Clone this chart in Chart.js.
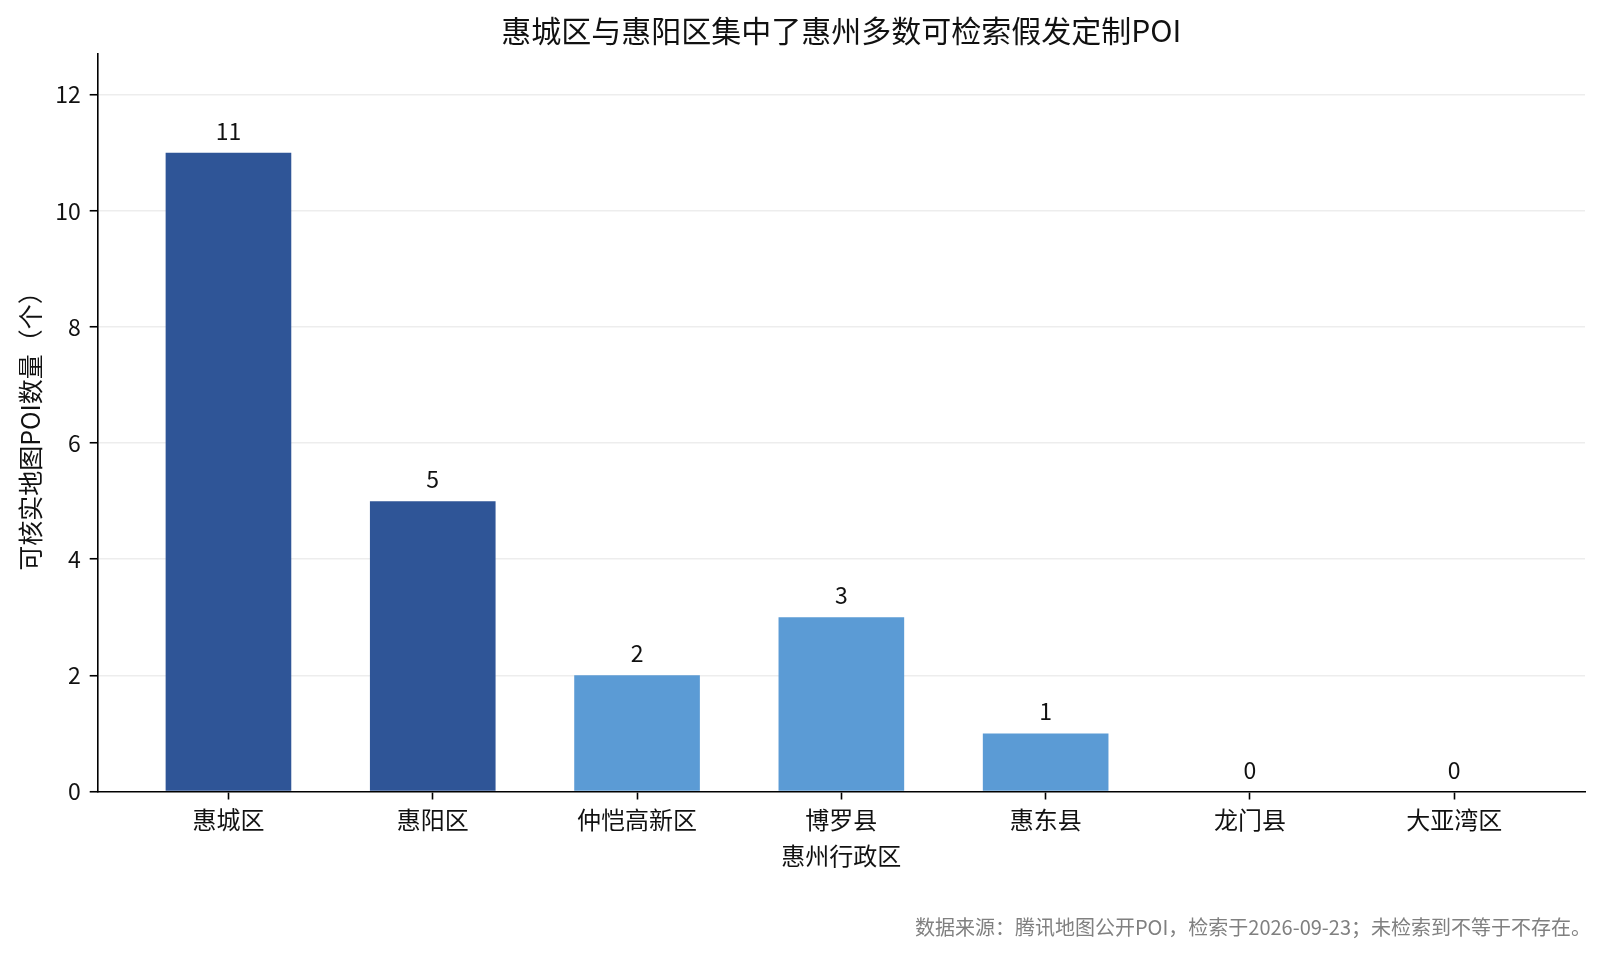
<!DOCTYPE html>
<html>
<head>
<meta charset="utf-8">
<script src="https://cdn.jsdelivr.net/npm/chart.js@4.4.1/dist/chart.umd.min.js"></script>
<style>
  html, body { margin: 0; padding: 0; background: #fff; }
  #wrap { width: 1612px; height: 956px; position: relative; }
</style>
</head>
<body>
<div id="wrap"><canvas id="chart"></canvas></div>
<script>
// 数据
const districts = ["惠城区", "惠阳区", "仲恺高新区", "博罗县", "惠东县", "龙门县", "大亚湾区"];
const poiCounts = [11, 5, 2, 3, 1, 0, 0];
const yTicks = [0, 2, 4, 6, 8, 10, 12];

const chartTitle = "惠城区与惠阳区集中了惠州多数可检索假发定制POI";
const xTitle = "惠州行政区";
const yTitle = "可核实地图POI数量（个）";
const note = "数据来源：腾讯地图公开POI，检索于2026-09-23；未检索到不等于不存在。";

const FONT = '"Noto Sans CJK SC", "Noto Sans", sans-serif';
const DARK = "#2f5597";
const LIGHT = "#5b9bd5";

// 标题、坐标轴标题、数值标签、脚注
const textPlugin = {
  id: "texts",
  afterDraw(chart) {
    const ctx = chart.ctx;
    const area = chart.chartArea;
    ctx.save();

    // 柱顶数值
    ctx.fillStyle = "#111";
    ctx.font = "23px " + FONT;
    ctx.textAlign = "center";
    ctx.textBaseline = "alphabetic";
    chart.getDatasetMeta(0).data.forEach(function (bar, i) {
      ctx.fillText(String(poiCounts[i]), bar.x, bar.y - 13);
    });

    ctx.textBaseline = "middle";
    // 标题
    ctx.font = "30px " + FONT;
    ctx.fillText(chartTitle, (area.left + area.right) / 2, 31);

    // x 轴标题
    ctx.font = "24px " + FONT;
    ctx.fillText(xTitle, (area.left + area.right) / 2, 856);

    // y 轴标题
    ctx.save();
    ctx.font = "25px " + FONT;
    ctx.translate(30, 425);
    ctx.rotate(-Math.PI / 2);
    ctx.fillText(yTitle, 0, 0);
    ctx.restore();

    // 脚注
    ctx.fillStyle = "#808080";
    ctx.font = "20px " + FONT;
    ctx.textAlign = "right";
    ctx.fillText(note, 1591, 927);

    ctx.restore();
  }
};

const ctx = document.getElementById("chart").getContext("2d");
const myChart = new Chart(ctx, {
  type: "bar",
  data: {
    datasets: [
      {
        data: poiCounts.map(function (v, i) { return { x: i, y: v }; }),
        backgroundColor: function (c) { return c.dataIndex < 2 ? DARK : LIGHT; },
        borderWidth: 0,
        categoryPercentage: 1,
        barPercentage: 0.615,
      },
    ],
  },
  options: {
    responsive: true,
    maintainAspectRatio: false,
    animation: false,
    layout: { padding: { left: 0, right: 27, top: 54, bottom: 0 } },
    plugins: {
      legend: { display: false },
      title: { display: false },
      tooltip: { enabled: false },
    },
    scales: {
      x: {
        type: "linear",
        min: -0.64,
        max: 6.64,
        offset: false,
        z: 2,
        afterBuildTicks: function (axis) {
          axis.ticks = districts.map(function (_, i) { return { value: i }; });
        },
        afterFit: function (axis) { axis.height = 164.5; },
        ticks: {
          callback: function (value) { return districts[value]; },
          color: "#111",
          font: { family: FONT, size: 24 },
          padding: 6,
          maxRotation: 0,
          autoSkip: false,
        },
        grid: {
          offset: false,
          drawOnChartArea: false,
          drawTicks: true,
          tickLength: 8,
          tickColor: "#000",
          tickWidth: 1.6,
        },
        border: { display: true, color: "#000", width: 1.6 },
      },
      y: {
        min: 0,
        max: 12.7,
        z: 1,
        afterBuildTicks: function (axis) {
          axis.ticks = yTicks.map(function (v) { return { value: v }; });
        },
        afterFit: function (axis) { axis.width = 97.7; },
        ticks: {
          color: "#111",
          font: { family: FONT, size: 23 },
          padding: 9,
          includeBounds: false,
        },
        grid: {
          color: function (c) { return c.tick && c.tick.value === 0 ? "rgba(0,0,0,0)" : "rgba(215,215,215,0.45)"; },
          lineWidth: 1.5,
          drawTicks: true,
          tickLength: 8,
          tickColor: "#000",
          tickWidth: 1.6,
        },
        border: { display: true, color: "#000", width: 1.6 },
      },
    },
  },
  plugins: [textPlugin],
});
</script>
</body>
</html>
